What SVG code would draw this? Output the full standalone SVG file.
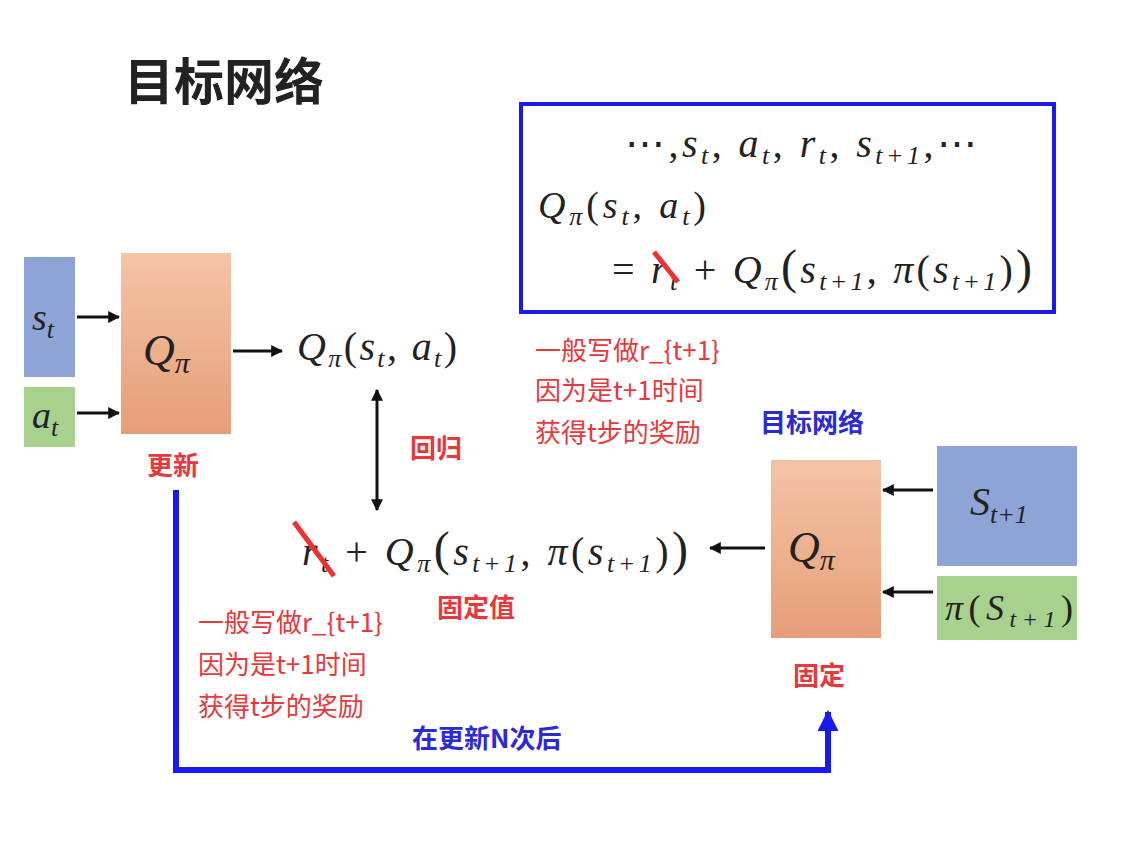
<svg xmlns="http://www.w3.org/2000/svg" width="1124" height="846" viewBox="0 0 1124 846">
<style>
.m{font-family:"Liberation Serif","DejaVu Serif",serif;font-style:italic;fill:#222}
.n{font-style:normal}
.r{font-family:"Noto Sans CJK SC",sans-serif;fill:#e8383d;font-size:26px}
.rb{font-family:"Noto Sans CJK SC",sans-serif;fill:#e8383d;font-size:26px;font-weight:bold}
.b{font-family:"Noto Sans CJK SC",sans-serif;fill:#2b2bd6;font-size:26px;font-weight:bold}
.a{stroke:#111;stroke-width:3;fill:none;marker-end:url(#ah)}
</style>
<defs>
<marker id="ah" viewBox="0 0 10 10" refX="9" refY="5" markerWidth="4" markerHeight="4" orient="auto-start-reverse"><path d="M0,0L10,5L0,10z" fill="#111"/></marker>
<marker id="bh" viewBox="0 0 10 10" refX="9" refY="5" markerWidth="3.5" markerHeight="3.5" orient="auto"><path d="M0,0L10,5L0,10z" fill="#1a1aee"/></marker>
<linearGradient id="og" x1="0" y1="0" x2="0" y2="1"><stop offset="0" stop-color="#f4c4a6"/><stop offset="1" stop-color="#e69e78"/></linearGradient>
</defs>
<rect width="1124" height="846" fill="#fff"/>
<text x="124" y="100" font-family="Noto Sans CJK SC,sans-serif" font-size="50" font-weight="bold" fill="#222">目标网络</text>
<g id="st"><rect x="24" y="257" width="51" height="120" fill="#8fa4d6"/><text class="m" x="32" y="330" font-size="38">s<tspan font-size="26" dy="8">t</tspan></text></g>
<g id="at"><rect x="24" y="387" width="51" height="60" fill="#a9d18e"/><text class="m" x="32" y="428" font-size="38">a<tspan font-size="26" dy="8">t</tspan></text></g>
<g id="q1"><rect x="121" y="253" width="110" height="181" fill="url(#og)"/><text class="m" x="143" y="365" font-size="44">Q<tspan font-size="30" dy="8">π</tspan></text></g>
<text class="rb" x="147" y="475">更新</text>
<g id="out1"><text class="m" x="297" y="360" font-size="40" textLength="160" lengthAdjust="spacing">Q<tspan font-size="26" dy="7">π</tspan><tspan class="n" dy="-7">(</tspan>s<tspan font-size="26" dy="7">t</tspan><tspan class="n" dy="-7">, </tspan>a<tspan font-size="26" dy="7">t</tspan><tspan class="n" dy="-7">)</tspan></text></g>
<text class="rb" x="410" y="458">回归</text>
<g id="target"><text class="m" x="302" y="565" font-size="40" textLength="386" lengthAdjust="spacing">r<tspan font-size="26" dy="7">t</tspan><tspan class="n" dy="-7"> + </tspan>Q<tspan font-size="26" dy="7">π</tspan><tspan class="n" dy="-7" font-size="48">(</tspan>s<tspan font-size="26" dy="7">t+1</tspan><tspan class="n" dy="-7">, </tspan>π<tspan class="n">(</tspan>s<tspan font-size="26" dy="7">t+1</tspan><tspan class="n" dy="-7">)</tspan><tspan class="n" font-size="48">)</tspan></text>
<line x1="294" y1="522" x2="334" y2="576" stroke="#f03030" stroke-width="5"/></g>
<text class="rb" x="437" y="617">固定值</text>
<text class="r" x="198" y="632">一般写做r_{t+1}</text>
<text class="r" x="198" y="674">因为是t+1时间</text>
<text class="r" x="198" y="716">获得t步的奖励</text>
<g id="q2"><rect x="771" y="460" width="110" height="178" fill="url(#og)"/><text class="m" x="788" y="562" font-size="44">Q<tspan font-size="30" dy="8">π</tspan></text></g>
<text class="rb" x="793" y="685">固定</text>
<text class="b" x="760" y="432">目标网络</text>
<g id="s1"><rect x="937" y="446" width="140" height="120" fill="#8fa4d6"/><text class="m" x="970" y="515" font-size="40">S<tspan font-size="26" dy="8">t+1</tspan></text></g>
<g id="p1"><rect x="937" y="576" width="140" height="64" fill="#a9d18e"/><text class="m" x="945" y="620" font-size="36" textLength="128" lengthAdjust="spacing">π<tspan class="n">(</tspan>S<tspan font-size="24" dy="7">t+1</tspan><tspan class="n" dy="-7">)</tspan></text></g>
<g id="box"><rect x="521" y="104" width="533" height="208" fill="none" stroke="#1a1aee" stroke-width="4"/>
<text class="m" x="625" y="157" font-size="40" textLength="352" lengthAdjust="spacing"><tspan class="n">⋯,</tspan>s<tspan font-size="26" dy="7">t</tspan><tspan class="n" dy="-7">, </tspan>a<tspan font-size="26" dy="7">t</tspan><tspan class="n" dy="-7">, </tspan>r<tspan font-size="26" dy="7">t</tspan><tspan class="n" dy="-7">, </tspan>s<tspan font-size="26" dy="7">t+1</tspan><tspan class="n" dy="-7">,⋯</tspan></text>
<text class="m" x="538" y="218" font-size="38" textLength="168" lengthAdjust="spacing">Q<tspan font-size="26" dy="7">π</tspan><tspan class="n" dy="-7">(</tspan>s<tspan font-size="26" dy="7">t</tspan><tspan class="n" dy="-7">, </tspan>a<tspan font-size="26" dy="7">t</tspan><tspan class="n" dy="-7">)</tspan></text>
<text class="m" x="612" y="283" font-size="40" textLength="420" lengthAdjust="spacing"><tspan class="n">= </tspan>r<tspan font-size="26" dy="7">t</tspan><tspan class="n" dy="-7"> + </tspan>Q<tspan font-size="26" dy="7">π</tspan><tspan class="n" dy="-7" font-size="48">(</tspan>s<tspan font-size="26" dy="7">t+1</tspan><tspan class="n" dy="-7">, </tspan>π<tspan class="n">(</tspan>s<tspan font-size="26" dy="7">t+1</tspan><tspan class="n" dy="-7">)</tspan><tspan class="n" font-size="48">)</tspan></text>
<line x1="654" y1="252" x2="678" y2="282" stroke="#f03030" stroke-width="5"/></g>
<text class="r" x="535" y="360">一般写做r_{t+1}</text>
<text class="r" x="535" y="400">因为是t+1时间</text>
<text class="r" x="535" y="442">获得t步的奖励</text>
<text class="b" x="412" y="748">在更新N次后</text>
<g id="connectors">
<line class="a" x1="77" y1="317" x2="119" y2="317"/>
<line class="a" x1="77" y1="413" x2="119" y2="413"/>
<line class="a" x1="233" y1="351" x2="282" y2="351"/>
<line class="a" x1="377" y1="390" x2="377" y2="510" marker-start="url(#ah)"/>
<line class="a" x1="765" y1="548" x2="710" y2="548"/>
<line class="a" x1="933" y1="490" x2="883" y2="490"/>
<line class="a" x1="933" y1="592" x2="883" y2="592"/>
<path d="M176,490V770H828V712" fill="none" stroke="#1a1aee" stroke-width="6" marker-end="url(#bh)"/>
</g>
</svg>
